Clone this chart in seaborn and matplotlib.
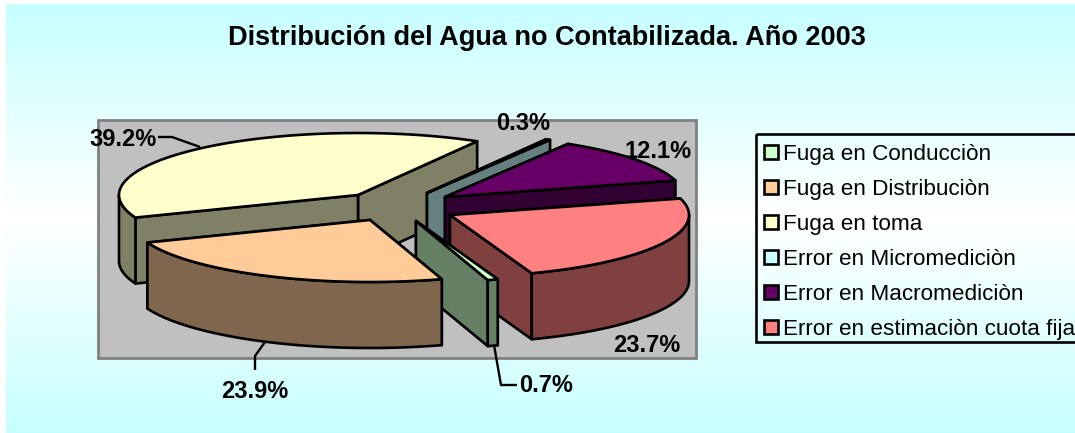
import numpy as np
import matplotlib
matplotlib.use('Agg')
import matplotlib.pyplot as plt
from matplotlib.patches import Patch, Rectangle
import seaborn as sns

# data
categories = ['Fuga en Conducciòn', 'Fuga en Distribuciòn', 'Fuga en toma',
              'Error en Micromediciòn', 'Error en Macromediciòn', 'Error en estimaciòn cuota fija']
values = [0.7, 23.9, 39.2, 0.3, 12.1, 23.7]
value_labels = ['0.7%', '23.9%', '39.2%', '0.3%', '12.1%', '23.7%']
colors = ['#CCFFCC', '#FFCC99', '#FFFFCC', '#CCFFFF', '#660066', '#FF8080']

# layout in pixels of the picture
start_angle = 160.0
rx, ry, depth = 239, 62, 66
centers = [(416, 221), (370, 220), (358, 195), (427, 193), (445, 197), (450, 215)]
draw_order = [2, 3, 4, 5, 0, 1]
label_pos = [(546, 386), (255, 392), (123, 140), (523, 124), (658, 152), (647, 345)]
leaders = [[(494, 345), (501, 385), (517, 385)],
           [(255, 370), (255, 356), (265, 342)],
           [(158, 137), (172, 137), (200, 147)]]

sns.set_style('white')
plt.rcParams['font.family'] = ['Liberation Sans', 'DejaVu Sans']

fig = plt.figure(figsize=(10.75, 4.33), dpi=100)
ax = fig.add_axes([0, 0, 1, 1])
ax.axis('off')

# background gradient, white margin at left and top
t = np.linspace(0, 1, 200)
grad = 1 - np.abs(2 * t - 1)
bg = np.ones((200, 1, 3))
bg[:, 0, 0] = 0.78 + 0.22 * grad
ax.imshow(bg, extent=(6, 1075, 433, 4), aspect='auto', zorder=0)
ax.set_xlim(0, 1075)
ax.set_ylim(433, 0)

ax.add_patch(Rectangle((98, 120), 598, 238, fc='#C0C0C0', ec='#808080', lw=2, zorder=1))


def rim(c, a0, a1):
    th = np.radians(np.linspace(a0, a1, 120))
    return c[0] + rx * np.sin(th), c[1] - ry * np.cos(th)


def face(x, y, col):
    ax.fill(x, y, fc=col, ec='black', lw=1.9, joinstyle='round', zorder=2)


palette = sns.color_palette(colors)
edges = np.concatenate([[0], np.cumsum(values)]) / np.sum(values) * 360 + start_angle

for i in draw_order:
    c = centers[i]
    a0, a1 = edges[i], edges[i + 1]
    col = palette[i]
    dark = tuple(v * 0.5 for v in col)

    # radial walls, the one further back first
    walls = sorted([a0, a1], key=lambda a: -np.cos(np.radians(a)))
    for a in walls:
        ex, ey = rim(c, a, a)
        ex, ey = ex[0], ey[0]
        face([c[0], ex, ex, c[0]], [c[1], ey, ey + depth, c[1] + depth], dark)

    # outer wall only where the rim faces the viewer
    for k in range(-1, 2):
        lo = max(a0, 90 + 360 * k)
        hi = min(a1, 270 + 360 * k)
        if hi > lo:
            x, y = rim(c, lo, hi)
            face(np.r_[x, x[::-1]], np.r_[y, y[::-1] + depth], dark)

    x, y = rim(c, a0, a1)
    face(np.r_[c[0], x], np.r_[c[1], y], col)

for pts in leaders:
    xs, ys = zip(*pts)
    ax.plot(xs, ys, color='black', lw=1.7, zorder=3, solid_capstyle='butt')

for lab, (lx, ly) in zip(value_labels, label_pos):
    ax.text(lx, ly, lab, ha='center', va='center', fontsize=17, fontweight='bold', color='black', zorder=4)

ax.text(547, 38, 'Distribución del Agua no Contabilizada. Año 2003', ha='center', va='center',
        fontsize=19.5, fontweight='bold', color='black')

# legend frame runs off the right edge of the picture
ax.add_patch(Rectangle((756, 134), 340, 208, fc='none', ec='black', lw=1.9, zorder=3))
handles = [Patch(fc=colors[i], ec='black', lw=1.9) for i in range(len(categories))]
leg = ax.legend(handles, categories, loc='upper left', bbox_to_anchor=(764 / 1075, 1 - 144 / 433),
                bbox_transform=fig.transFigure, borderaxespad=0, fontsize=16.2, frameon=False,
                labelspacing=0.62, handlelength=0.6, handleheight=0.6, handletextpad=0.26, borderpad=0,
                labelcolor='black')

fig.savefig('out.png', dpi=100)
